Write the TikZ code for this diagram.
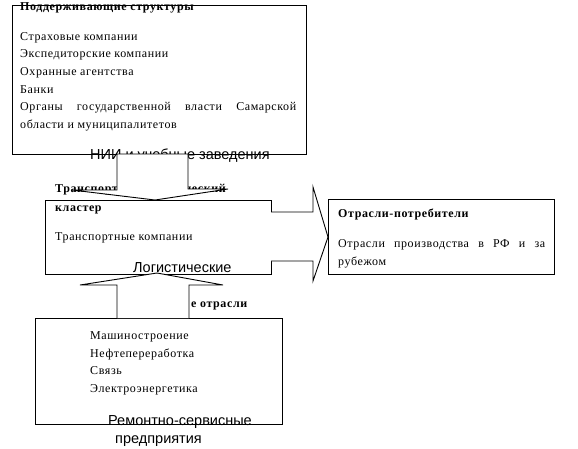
\documentclass[tikz,border=0pt]{standalone}
\usepackage{fontspec}
\setmainfont{Liberation Serif}
\newfontfamily\spacedserif[LetterSpace=5]{Liberation Serif}
\newfontfamily\arialf{Liberation Sans}
\tikzset{
  box/.style={draw=black, line width=0.9pt},
  blockarrow/.style={draw=black, fill=white, line width=0.9pt, line join=miter},
  txt/.style={inner sep=0pt, anchor=base west, font=\fontsize{12}{14}\spacedserif},
  ttl/.style={inner sep=0pt, anchor=base west, font=\fontsize{12}{14}\spacedserif\bfseries},
  sanstxt/.style={inner sep=0pt, anchor=base west, font=\fontsize{14.5}{17}\selectfont\arialf},
}
\begin{document}
\begin{tikzpicture}[x=1pt,y=-1pt]
\useasboundingbox (0,0) rectangle (578,448);
% top box
\draw[box] (12,5) rectangle (306,154);
\node[ttl] (t1) at (20,10) {Поддерживающие структуры};
\node[txt] (a1) at (20,40) {Страховые компании};
\node[txt] (a2) at (20,57) {Экспедиторские компании};
\node[txt] (a3) at (20,75) {Охранные агентства};
\node[txt] (a4) at (20,93) {Банки};
\node[txt] (a5) at (20,110) {\makebox[276pt][s]{Органы государственной власти Самарской}};
\node[txt] (a6) at (20,128) {области и муниципалитетов};
\node[sanstxt] (nii) at (90,159) {НИИ и учебные заведения};

% middle box
\draw[box] (45,200) rectangle (271,274);
\node[ttl] (t2) at (55,192) {Транспортно-логистический};
\node[ttl] (t2b) at (55,211) {кластер};
\node[txt] (b1) at (55,240) {Транспортные компании};
\node[sanstxt] (log) at (133,272) {Логистические};

% right box
\draw[box] (328,199) rectangle (554,274);
\node[ttl] (t3) at (338,217) {Отрасли-потребители};
\node[txt] (c1) at (338,247) {\makebox[207pt][s]{Отрасли производства в РФ и за}};
\node[txt] (c2) at (338,265) {рубежом};

% bottom box
\draw[box] (35,318) rectangle (282,424);
\node[txt] (d1) at (90,339) {Машиностроение};
\node[txt] (d2) at (90,357) {Нефтепереработка};
\node[txt] (d3) at (90,374) {Связь};
\node[txt] (d4) at (90,392) {Электроэнергетика};
\node[sanstxt] (rem) at (108,425) {Ремонтно-сервисные};
\node[sanstxt] (pred) at (115,443) {предприятия};

% block arrows
\draw[blockarrow] (117,154) -- (188,154) -- (188,189) -- (228,189) -- (155,200) -- (72,190) -- (117,190) -- cycle;
\draw[blockarrow] (117,318) -- (117,285) -- (80,285) -- (157,273) -- (223,285) -- (189,285) -- (189,318);
\node[ttl] (t4) at (191,307) {е отрасли};
\draw[blockarrow] (271,212) -- (313,212) -- (313,187) -- (328,237) -- (313,281) -- (313,261) -- (271,261);
\end{tikzpicture}
\end{document}
